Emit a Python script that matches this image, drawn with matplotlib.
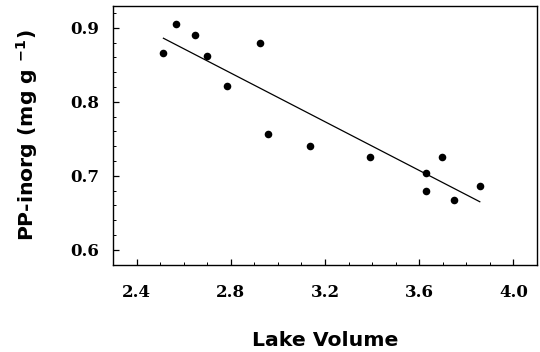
import matplotlib
matplotlib.use("Agg")
import matplotlib.pyplot as plt
from matplotlib.ticker import MultipleLocator

# values
lake_volume = [2.514, 2.567, 2.648, 2.701, 2.784, 2.926, 2.958, 3.137,
               3.389, 3.628, 3.628, 3.698, 3.749, 3.857]
pp_inorg = [0.866, 0.905, 0.890, 0.862, 0.822, 0.880, 0.757, 0.740,
            0.725, 0.704, 0.680, 0.725, 0.668, 0.686]
fit_x = [2.514, 3.857]
fit_y = [0.886, 0.665]
x_ticks = [2.4, 2.8, 3.2, 3.6, 4.0]
y_ticks = [0.6, 0.7, 0.8, 0.9]

plt.rcParams["mathtext.fontset"] = "dejavusans"

fig = plt.figure(figsize=(5.4, 3.52), dpi=100)
ax = fig.add_axes([0.2093, 0.2472, 0.7852, 0.7358])

ax.scatter(lake_volume, pp_inorg, s=30, color="black", zorder=3, linewidths=0)
ax.plot(fit_x, fit_y, color="black", lw=0.9)

ax.set_xlim(2.3, 4.1)
ax.set_ylim(0.5795, 0.9296)
ax.set_xticks(x_ticks)
ax.set_yticks(y_ticks)
ax.xaxis.set_minor_locator(MultipleLocator(0.1))
ax.yaxis.set_minor_locator(MultipleLocator(0.02))
ax.set_xticklabels([f"{v:.1f}" for v in x_ticks])
ax.set_yticklabels([f"{v:.1f}" for v in y_ticks])

ax.tick_params(which="both", direction="in", top=False, right=False)
ax.tick_params(which="major", length=4.5, width=0.9)
ax.tick_params(which="minor", length=2.5, width=0.7)
ax.tick_params(axis="x", which="major", pad=14)
ax.tick_params(axis="y", which="major", pad=10)
for lab in ax.get_xticklabels() + ax.get_yticklabels():
    lab.set_fontfamily("DejaVu Serif")
    lab.set_fontweight("bold")
    lab.set_fontsize(12)
for sp in ax.spines.values():
    sp.set_linewidth(1.0)

fig.text(0.6019, 0.034, "Lake Volume", ha="center", va="center",
         fontfamily="DejaVu Sans", fontweight="bold", fontsize=14.7)
fig.text(0.051, 0.615, r"PP-inorg (mg g $^{\mathbf{-1}}$)", ha="center",
         va="center", rotation=90, fontfamily="DejaVu Sans",
         fontweight="bold", fontsize=14.7)

fig.savefig("out.png", dpi=100)
